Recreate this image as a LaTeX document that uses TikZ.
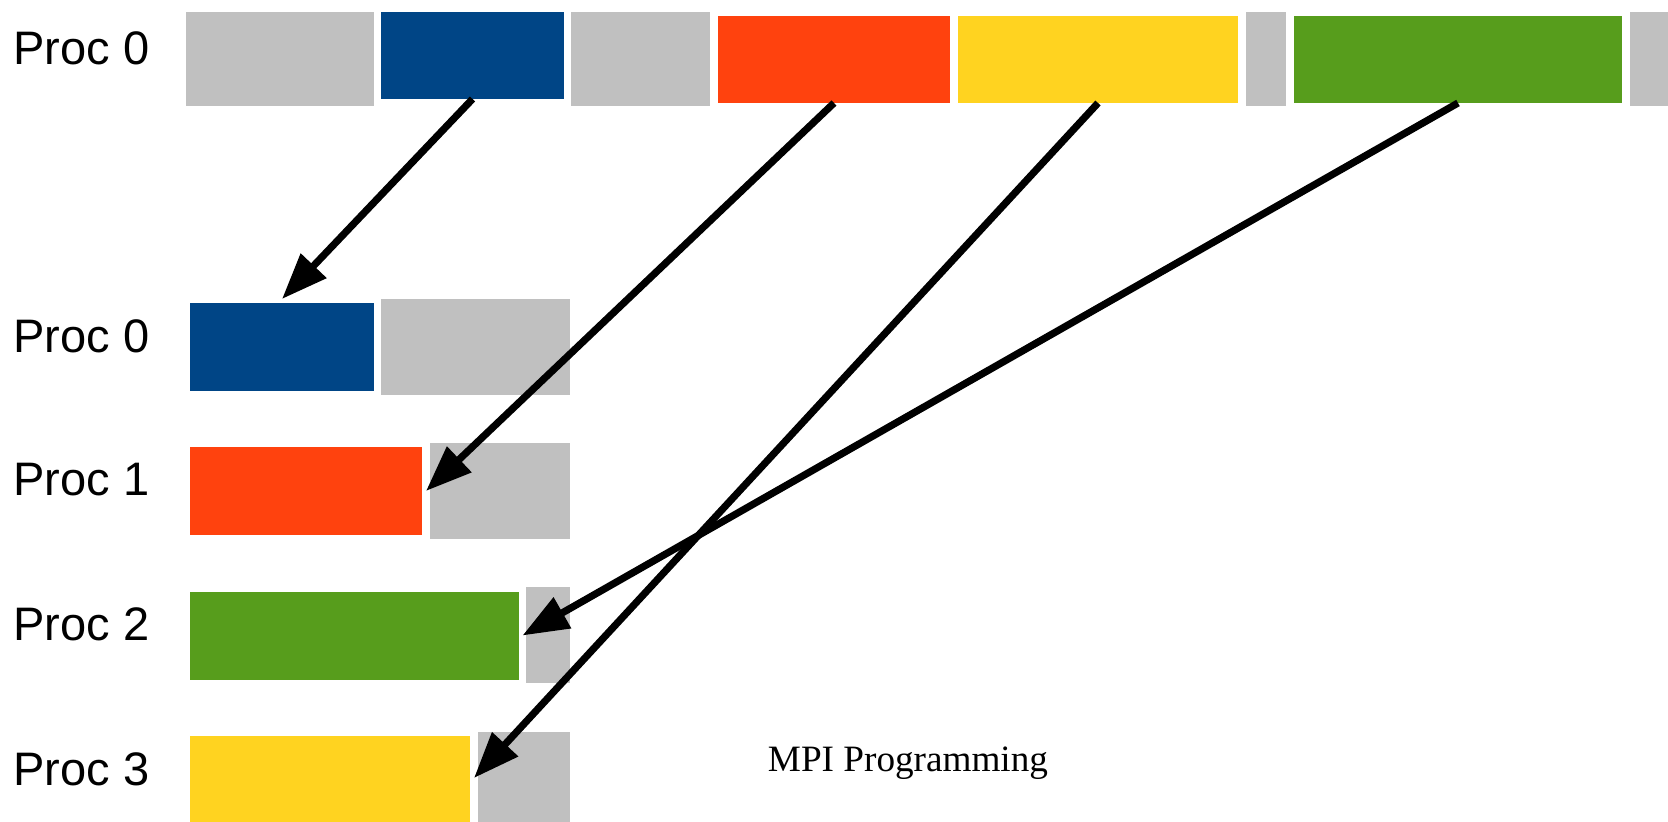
\documentclass[tikz,border=0pt]{standalone}
\usepackage{fontspec}
\setmainfont{Liberation Sans}
\newfontfamily\captionserif{Liberation Serif}
\usetikzlibrary{arrows.meta, calc}
\definecolor{padgray}{HTML}{C0C0C0}
\definecolor{chunkblue}{HTML}{004586}
\definecolor{chunkred}{HTML}{FF420E}
\definecolor{chunkyellow}{HTML}{FFD320}
\definecolor{chunkgreen}{HTML}{579D1C}
\tikzset{
    chunk/.style={rectangle, inner sep=0pt, outer sep=0pt, anchor=north west},
    pad/.style={chunk, fill=padgray, minimum height=47pt},
    data/.style={chunk, minimum height=43.5pt},
    proclabel/.style={inner sep=0pt, anchor=west, font=\fontsize{23.5}{28}\selectfont},
    sendarrow/.style={-{Triangle[length=23pt, width=17pt]}, line width=3.6pt, black},
}
\begin{document}
\begin{tikzpicture}[x=0.5pt, y=-0.5pt]
\useasboundingbox (0,0) rectangle (1668,822);

% send buffer on the root
\node[proclabel] (top) at (13,48) {Proc 0};
\node[pad, minimum width=94pt] (g0a) at (186,12) {};
\node[data, fill=chunkblue, minimum width=91.5pt] (tb) at (381,12) {};
\node[pad, minimum width=69.5pt] (g0b) at (571,12) {};
\node[data, fill=chunkred, minimum width=116pt] (tr) at (718,16) {};
\node[data, fill=chunkyellow, minimum width=140pt] (ty) at (958,16) {};
\node[pad, minimum width=20pt] (g0c) at (1246,12) {};
\node[data, fill=chunkgreen, minimum width=164pt] (tg) at (1294,16) {};
\node[pad, minimum width=19pt] (g0d) at (1630,12) {};

% receive buffers
\node[proclabel] (l0) at (13,336) {Proc 0};
\node[data, fill=chunkblue, minimum width=92pt, minimum height=44pt] (b0) at (190,303) {};
\node[pad, minimum width=94.5pt, minimum height=48pt] (p0) at (381,299) {};

\node[proclabel] (l1) at (13,480) {Proc 1};
\node[data, fill=chunkred, minimum width=116pt, minimum height=44pt] (b1) at (190,447) {};
\node[pad, minimum width=70pt, minimum height=48pt] (p1) at (430,443) {};

\node[proclabel] (l2) at (13,624) {Proc 2};
\node[data, fill=chunkgreen, minimum width=164.5pt, minimum height=44pt] (b2) at (190,592) {};
\node[pad, minimum width=22pt, minimum height=48pt] (p2) at (526,587) {};

\node[proclabel] (l3) at (13,769) {Proc 3};
\node[data, fill=chunkyellow, minimum width=140pt, minimum height=43pt] (b3) at (190,736) {};
\node[pad, minimum width=46pt, minimum height=45pt] (p3) at (478,732) {};

\node[inner sep=0pt, anchor=base, font=\captionserif\fontsize{18.6}{22}\selectfont] (cap) at (908,771) {MPI Programming};

% scatter
\draw[sendarrow] (tb.south) -- ([yshift=2pt]b0.north);
\draw[sendarrow] (tr.south) -- ($(b1.east)!0.5!(p1.west)$);
\draw[sendarrow] (ty.south) -- ($(b3.east)!0.5!(p3.west)$);
\draw[sendarrow] (tg.south) -- ($(b2.east)!0.5!(p2.west)$);
\end{tikzpicture}
\end{document}
